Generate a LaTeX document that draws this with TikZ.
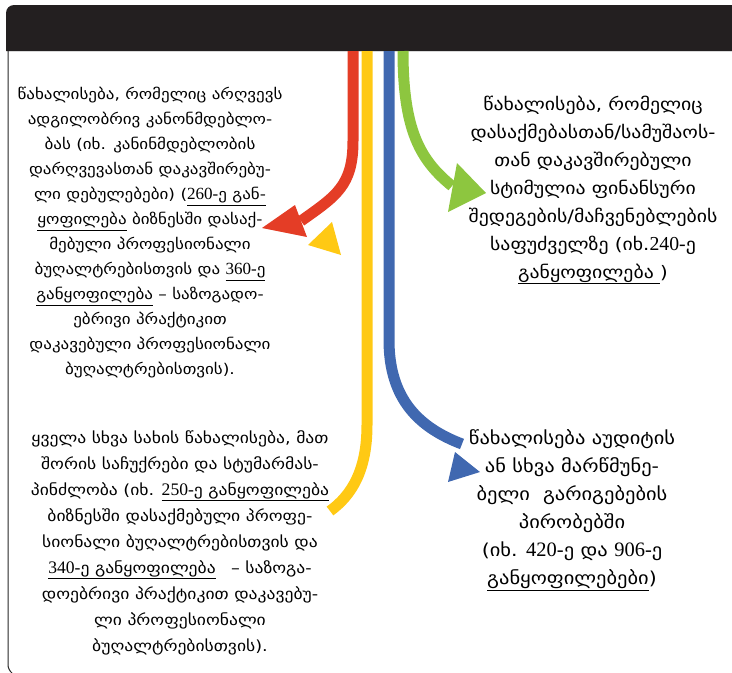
\documentclass[tikz,border=0pt]{standalone}
\usepackage{fontspec}
\setmainfont[FakeStretch=1.15]{DejaVu Sans}
\newfontfamily\numfont[Scale=1.15]{Liberation Serif}
\def\nr#1{{\numfont #1}}
\definecolor{headblack}{HTML}{231F20}
\definecolor{bandred}{HTML}{E43D26}
\definecolor{bandyellow}{HTML}{FFC914}
\definecolor{bandblue}{HTML}{4068B0}
\definecolor{bandgreen}{HTML}{8DC63F}

\begin{document}
\begin{tikzpicture}[x=1pt,y=-1pt,
	band/.style={line width=11pt},
	txt/.style={align=center,font=\fontsize{14.8}{25}\selectfont},
	txtbig/.style={align=center,font=\fontsize{17.2}{28}\selectfont}]
	\useasboundingbox (0,0) rectangle (732,673);
	\fill[headblack] (6,51) [rounded corners=8pt] -- (6,5) [sharp corners] -- (732,5) -- (732,51) -- cycle;
	\draw[black!15,line width=1pt] (7,51) -- (732,51);
	\draw[black!85,line width=1pt,rounded corners=5pt] (8,51) -- (8,670) -- (12,673);
	\coordinate (rtop) at (353,51);
	\coordinate (rend) at (301,221);
	\coordinate (ytop) at (367,51);
	\coordinate (yend) at (330,511);
	\coordinate (btop) at (389,51);
	\coordinate (bend) at (462,444);
	\coordinate (gtop) at (403,51);
	\coordinate (gend) at (452,186);
	\draw[band,bandred] (rtop) -- (353,141) .. controls (353,186) and (336,196) .. (rend);
	\draw[band,bandyellow] (ytop) -- (367,425) .. controls (367,470) and (352,495) .. (yend);
	\draw[band,bandblue] (btop) -- (389,340) .. controls (389,400) and (420,428) .. (bend);
	\draw[band,bandgreen] (gtop) .. controls (403,130) and (420,160) .. (gend);
	\fill[bandred] (262,228) -- (295,205) -- (307,237) -- cycle;
	\fill[bandyellow] (308,245) -- (332,222) -- (341,255) -- cycle;
	\fill[bandblue] (455,452) -- (480,472) -- (448,482) -- cycle;
	\fill[bandgreen] (486,193) -- (457,163) -- (448,212) -- cycle;
	\node (local) at (150,233) [txt] {წახალისება, რომელიც არღვევს\\
		ადგილობრივ კანონმდებლო-\\
		ბას (იხ. კანინმდებლობის\\
		დარღვევასთან დაკავშირებუ-\\
		ლი დებულებები) (\underline{\nr{260-}ე გან-}\\
		\underline{ყოფილება} ბიზნესში დასაქ-\\
		მებული პროფესიონალი\\
		ბუღალტრებისთვის და \underline{\nr{360-}ე}\\
		\underline{განყოფილება} – საზოგადო-\\
		ებრივი პრაქტიკით\\
		დაკავებული პროფესიონალი\\
		ბუღალტრებისთვის).};
	\node (job) at (593,190) [txtbig] {წახალისება, რომელიც\\
		დასაქმებასთან/სამუშაოს-\\
		თან დაკავშირებული\\
		სტიმულია ფინანსური\\
		შედეგების/მაჩვენებლების\\
		საფუძველზე (იხ.\nr{240-}ე\\
		\underline{განყოფილება\ })};
	\node (other) at (180,543) [txt,font=\fontsize{15.3}{26}\selectfont] {ყველა სხვა სახის წახალისება, მათ\\
		შორის საჩუქრები და სტუმარმას-\\
		პინძლობა (იხ. \underline{\nr{250-}ე განყოფილება}\\
		ბიზნესში დასაქმებული პროფე-\\
		სიონალი ბუღალტრებისთვის და\\
		\underline{\nr{340-}ე განყოფილება}\quad – საზოგა-\\
		დოებრივი პრაქტიკით დაკავებუ-\\
		ლი პროფესიონალი\\
		ბუღალტრებისთვის).};
	\node (audit) at (572,510) [txtbig,font=\fontsize{17.8}{28}\selectfont] {წახალისება აუდიტის\\
		ან სხვა მარწმუნე-\\
		ბელი\ \ გარიგებების\\
		პირობებში\\
		(იხ. \nr{420-}ე და \nr{906-}ე\\
		\underline{განყოფილებები})};
\end{tikzpicture}
\end{document}
